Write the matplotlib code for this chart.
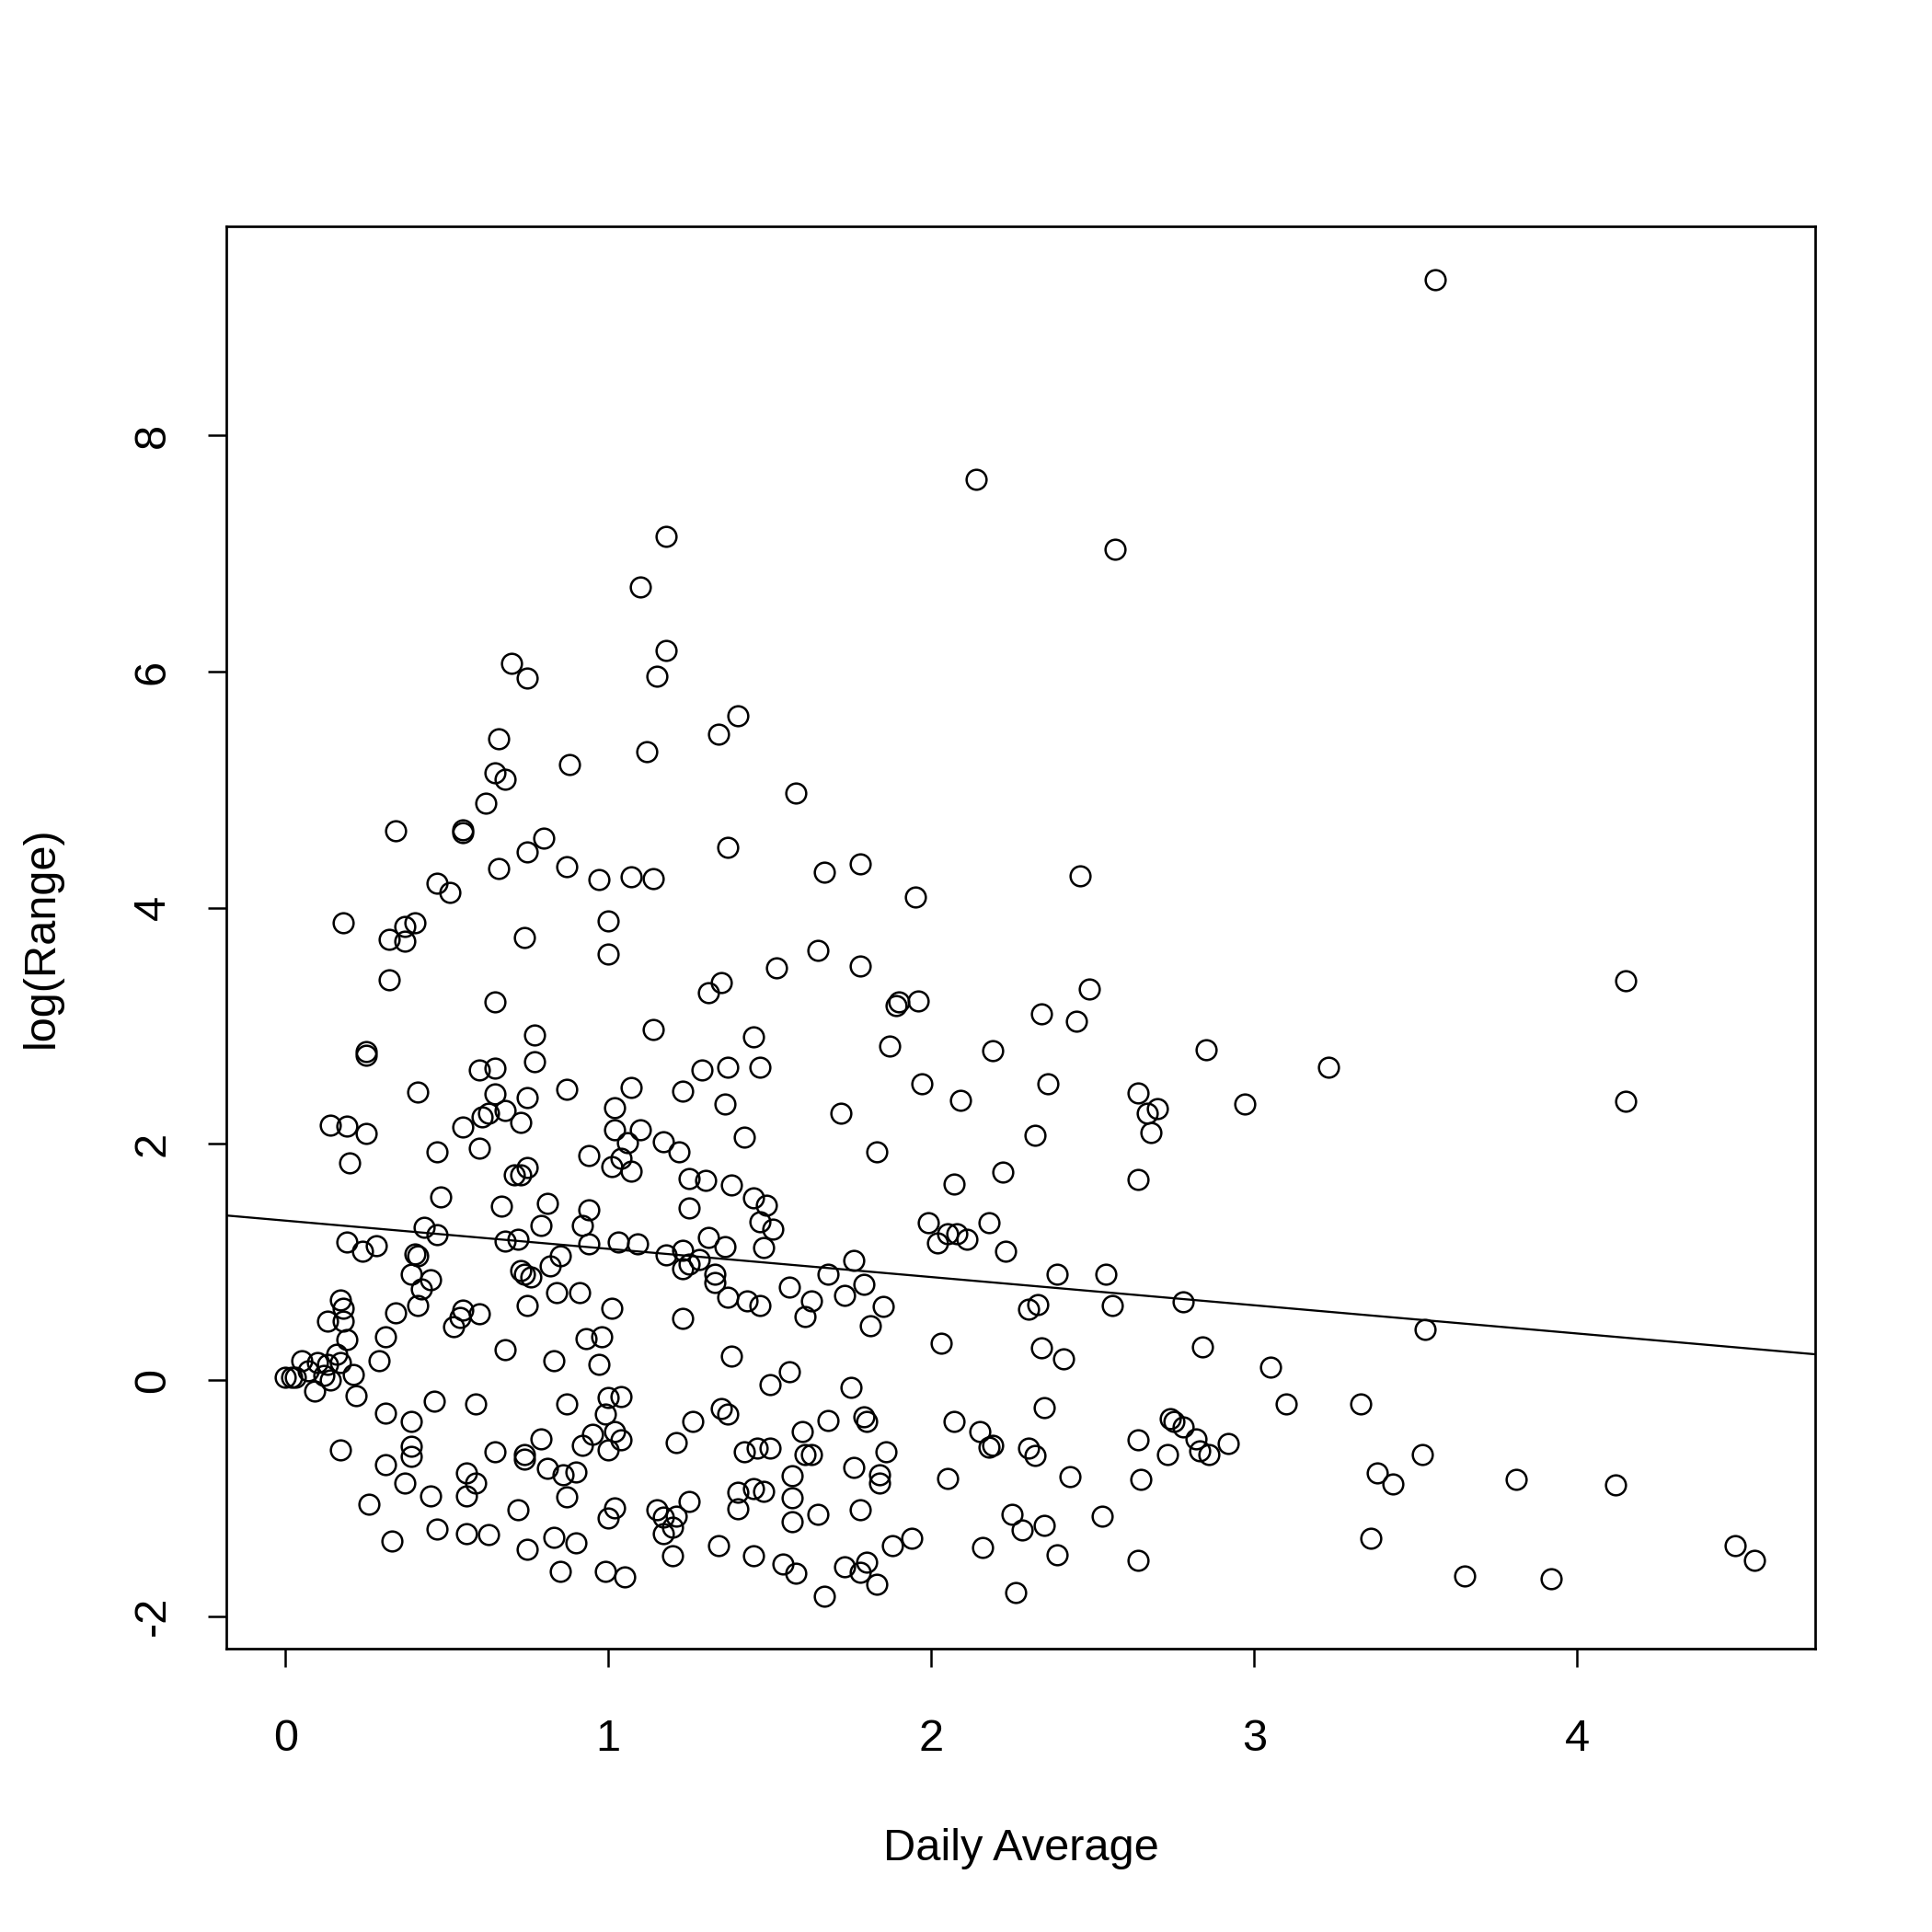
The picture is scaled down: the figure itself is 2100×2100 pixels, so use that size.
import matplotlib.pyplot as plt

plt.rcParams["font.family"] = ["Liberation Sans", "DejaVu Sans"]
plt.rcParams["axes.unicode_minus"] = False

# points, one line of x matches the same line of y
daily_average = [
    # lower left block
    0.48, 0.67, 0.81, 0.94, 0.43, 0.47, 0.19, 0.24, 0.28, 0.40,
    0.41, 0.39, 0.45, 0.42, 0.41, 0.34, 0.31, 0.29, 0.17, 0.18,
    0.13, 0.18, 0.19, 0.16, 0.17, 0.05, 0.10, 0.07, 0.12, 0.13,
    0.14, 0.21, 0.22, 0.09, 0.00, 0.02, 0.03, 0.55, 0.60, 0.54,
    0.52, 0.68, 0.72, 0.73, 0.74, 0.76, 0.75, 0.68, 0.79, 0.92,
    0.94, 1.03, 1.09, 0.85, 0.82, 0.84, 0.91, 1.01, 0.93, 0.98,
    0.83, 0.97, 0.46, 0.59, 0.87, 1.00, 1.04, 0.99, 0.31, 0.39,
    0.17, 0.39, 0.39, 0.31, 0.37, 0.45, 0.26, 0.65, 0.79, 0.74,
    0.74, 0.81, 0.86, 0.90, 0.56, 0.59, 0.56, 0.87, 0.72, 0.92,
    0.95, 1.00, 1.02, 1.04, 1.02, 1.00, 0.33, 0.47, 0.56, 0.63,
    0.75, 0.83, 0.90, 0.85, 0.99, 1.05,
    # lower middle block
    1.25, 1.49, 1.45, 1.47, 1.51, 1.48, 1.31, 1.36, 1.18, 1.23,
    1.23, 1.25, 1.28, 1.33, 1.33, 1.37, 1.43, 1.47, 1.23, 1.56,
    1.63, 1.61, 1.68, 1.76, 1.73, 1.79, 1.85, 1.81, 1.99, 2.02,
    2.05, 2.08, 2.11, 2.18, 2.23, 2.30, 2.33, 2.03, 2.34, 2.35,
    1.38, 1.56, 1.50, 1.75, 1.35, 1.37, 1.26, 1.21, 1.42, 1.46,
    1.50, 1.60, 1.68, 1.79, 1.80, 1.61, 1.63, 1.86, 1.76, 1.84,
    1.84, 1.57, 1.57, 1.57, 1.65, 1.78, 1.40, 1.45, 1.48, 1.40,
    1.25, 1.15, 1.17, 1.21, 1.20, 1.17, 1.20, 1.34, 1.45, 1.54,
    1.58, 1.67, 1.73, 1.78, 1.80, 1.83, 1.88, 1.94, 2.07, 2.15,
    2.18, 2.19, 2.30, 2.32, 2.05, 2.25, 2.28, 2.35, 2.16, 2.26,
    2.39, 2.41, 2.39,
    # right side
    2.54, 2.56, 2.78, 3.53, 2.84, 3.05, 3.10, 3.33, 2.74, 2.75,
    2.78, 2.82, 2.83, 2.86, 2.92, 2.64, 2.73, 2.43, 2.65, 3.38,
    3.43, 3.52, 2.53, 3.36, 2.64, 3.65, 3.81, 4.12, 4.49, 4.55,
    3.92, 4.15, 4.15, 2.46, 2.49, 2.45, 2.85, 3.23, 2.64, 2.67,
    2.70, 2.68, 2.97, 2.64,
    # upper middle block
    1.18, 1.15, 1.40, 1.34, 1.12, 1.58, 1.37, 1.14, 1.67, 1.78,
    1.95, 1.65, 1.78, 1.52, 1.35, 1.31, 1.14, 1.45, 1.29, 1.37,
    1.47, 1.23, 1.36, 1.42, 1.17, 1.22, 1.25, 1.30, 1.38, 1.72,
    1.83, 1.87, 1.89, 1.90, 1.96, 1.97, 2.09, 2.19, 2.34, 2.36,
    2.32, 2.22, 2.07,
    # upper left block
    0.70, 0.75, 0.66, 0.88, 0.65, 0.68, 0.62, 0.34, 0.55, 0.55,
    0.80, 0.75, 0.66, 0.87, 0.97, 1.07, 0.47, 0.51, 0.18, 0.32,
    0.37, 0.40, 0.37, 1.00, 0.74, 1.00, 0.32, 0.65, 0.77, 0.25,
    0.25, 0.77, 0.60, 0.65, 0.87, 0.41, 0.65, 0.75, 1.07, 0.55,
    0.61, 0.63, 0.68, 0.73, 1.02, 1.02, 1.06, 1.10, 0.14, 0.19,
    0.25, 0.20, 0.47, 0.60, 0.94, 1.01, 1.04, 1.07, 0.71, 0.73,
    0.75,
    # top outliers
    3.56, 2.14, 2.57, 1.18, 1.10,
]

log_range = [
    # lower left block
    1.55, 1.47, 1.50, 1.44, 1.29, 1.23, 1.17, 1.09, 1.14, 1.07,
    1.05, 0.90, 0.85, 0.77, 0.63, 0.57, 0.37, 0.16, 0.68, 0.61,
    0.50, 0.50, 0.34, 0.22, 0.15, 0.16, 0.15, 0.08, 0.04, 0.13,
    0.00, 0.05, -0.13, -0.09, 0.02, 0.02, 0.02, 0.59, 0.56, 0.53,
    0.45, 1.18, 1.19, 0.93, 0.90, 0.87, 0.63, 0.26, 1.31, 1.31,
    1.15, 1.17, 1.15, 1.05, 0.97, 0.74, 0.74, 0.61, 0.35, 0.37,
    0.16, 0.13, -0.18, -0.20, -0.20, -0.15, -0.14, -0.29, -0.28, -0.35,
    -0.59, -0.56, -0.65, -0.72, -0.87, -0.98, -1.05, -0.61, -0.50, -0.63,
    -0.67, -0.75, -0.80, -0.78, -0.79, -0.87, -0.98, -0.99, -1.10, -0.55,
    -0.46, -0.59, -0.44, -0.51, -1.08, -1.17, -1.36, -1.26, -1.30, -1.31,
    -1.43, -1.33, -1.38, -1.62, -1.62, -1.67,
    # lower middle block
    1.46, 1.48, 1.54, 1.34, 1.28, 1.12, 1.21, 1.13, 1.06, 1.10,
    0.94, 0.98, 1.02, 0.90, 0.83, 0.70, 0.67, 0.63, 0.52, 0.79,
    0.67, 0.54, 0.90, 1.01, 0.72, 0.81, 0.62, 0.46, 1.33, 1.16,
    1.24, 1.24, 1.19, 1.33, 1.09, 0.60, 0.64, 0.31, 0.27, -0.23,
    0.20, 0.07, -0.04, -0.06, -0.24, -0.29, -0.35, -0.53, -0.61, -0.58,
    -0.58, -0.44, -0.34, -0.31, -0.35, -0.63, -0.63, -0.61, -0.74, -0.80,
    -0.87, -0.81, -1.00, -1.20, -1.14, -1.10, -0.95, -0.92, -0.94, -1.09,
    -1.03, -1.10, -1.16, -1.15, -1.25, -1.30, -1.49, -1.40, -1.49, -1.56,
    -1.64, -1.83, -1.58, -1.63, -1.54, -1.73, -1.40, -1.34, -0.35, -0.44,
    -0.57, -0.55, -0.58, -0.64, -0.83, -1.14, -1.27, -1.23, -1.42, -1.80,
    0.90, 0.18, -1.48,
    # right side
    0.90, 0.63, 0.66, 0.43, 0.28, 0.11, -0.20, -0.20, -0.33, -0.35,
    -0.40, -0.50, -0.60, -0.63, -0.54, -0.51, -0.63, -0.82, -0.84, -0.79,
    -0.88, -0.63, -1.15, -1.34, -1.53, -1.66, -0.84, -0.89, -1.40, -1.53,
    -1.68, 3.38, 2.36, 4.27, 3.31, 3.04, 2.80, 2.65, 2.43, 2.26,
    2.30, 2.10, 2.34, 1.70,
    # upper middle block
    6.18, 5.96, 5.63, 5.47, 5.32, 4.97, 4.51, 4.25, 4.30, 4.37,
    4.09, 3.64, 3.51, 3.49, 3.37, 3.28, 2.97, 2.91, 2.63, 2.65,
    2.65, 2.45, 2.34, 2.06, 2.02, 1.93, 1.71, 1.69, 1.65, 2.26,
    1.93, 2.83, 3.17, 3.20, 3.21, 2.51, 2.37, 2.79, 3.10, 2.51,
    2.07, 1.76, 1.66,
    # upper left block
    6.07, 5.95, 5.43, 5.21, 5.14, 5.09, 4.89, 4.65, 4.66, 4.64,
    4.59, 4.47, 4.33, 4.35, 4.24, 4.26, 4.21, 4.13, 3.87, 3.73,
    3.84, 3.87, 3.72, 3.89, 3.75, 3.61, 3.39, 3.20, 2.92, 2.78,
    2.75, 2.70, 2.63, 2.64, 2.46, 2.44, 2.42, 2.39, 2.48, 2.14,
    2.23, 2.26, 2.28, 2.18, 2.31, 2.12, 2.01, 2.12, 2.16, 2.15,
    2.09, 1.84, 1.93, 1.96, 1.90, 1.81, 1.88, 1.77, 1.74, 1.74,
    1.80,
    # top outliers
    9.32, 7.63, 7.04, 7.15, 6.72,
]

# abline of the linear fit
fit_intercept = 1.35
fit_slope = -0.239

x_ticks = [0, 1, 2, 3, 4]
y_ticks = [-2, 0, 2, 4, 6, 8]

fig = plt.figure(figsize=(7, 7), dpi=300)
ax = fig.add_axes([0.1173, 0.1467, 0.8221, 0.736])

ax.plot(daily_average, log_range, "o", ms=5.2, mfc="none", mec="black", mew=0.6)
ax.axline((0, fit_intercept), slope=fit_slope, color="black", lw=0.55)

ax.set_xlim(-0.182, 4.736)
ax.set_ylim(-2.275, 9.77)
ax.set_xticks(x_ticks)
ax.set_yticks(y_ticks)

for s in ax.spines.values():
    s.set_linewidth(0.65)

ax.tick_params(direction="out", length=4.8, width=0.6, labelsize=11.7)
ax.tick_params(axis="x", pad=13.4)
ax.tick_params(axis="y", pad=9.0, labelrotation=90)
plt.setp(ax.get_yticklabels(), va="center")

ax.set_xlabel("Daily Average", fontsize=11.7, va="baseline")
ax.xaxis.set_label_coords(0.5, -0.1491)
ax.set_ylabel("log(Range)", fontsize=11.7, va="baseline")
ax.yaxis.set_label_coords(-0.1093, 0.5)

fig.savefig("out.png")
